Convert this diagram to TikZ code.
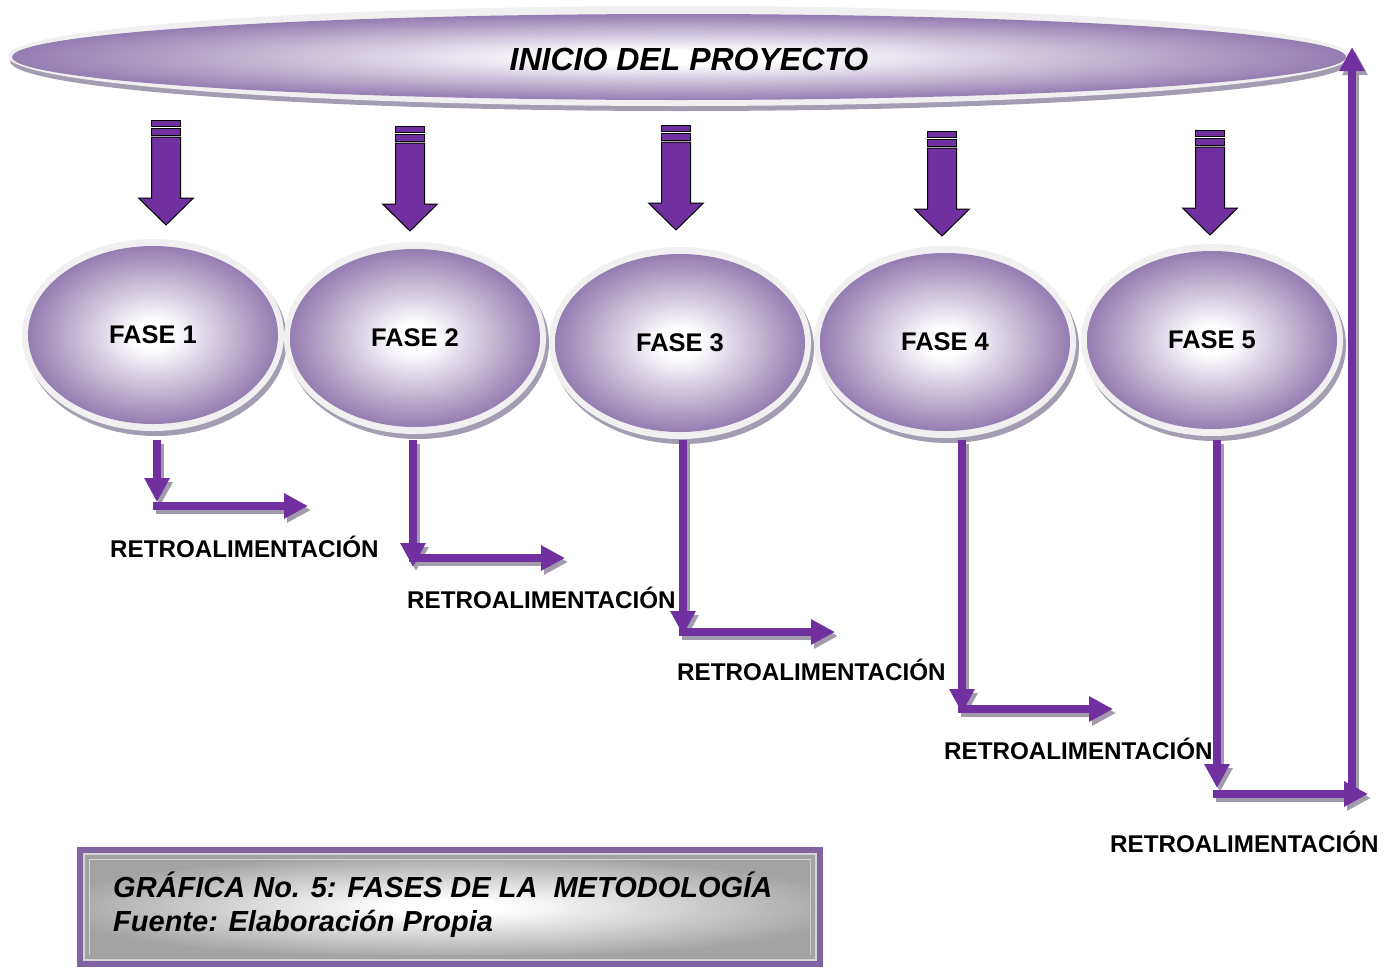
\documentclass[tikz,border=0pt]{standalone}
\usepackage{fontspec}
\setmainfont{Liberation Sans}
\usetikzlibrary{arrows.meta,shapes.geometric}
\definecolor{purpA}{HTML}{8064A2}
\definecolor{arrP}{HTML}{7030A0}
\definecolor{rimC}{HTML}{F0F0F0}
\definecolor{shadC}{HTML}{A49DB2}
\definecolor{ashadC}{HTML}{A29BAB}
\definecolor{greyC}{HTML}{A3A3A3}
\definecolor{lineC}{HTML}{D4D4D4}
\pgfdeclareradialshading{phaseshade}{\pgfpointorigin}{color(0bp)=(white); color(4bp)=(white); color(29bp)=(purpA); color(50bp)=(purpA)}
\pgfdeclareradialshading{capshade}{\pgfpointorigin}{color(0bp)=(white); color(4bp)=(white); color(28bp)=(greyC); color(50bp)=(greyC)}
\tikzset{
  phase/.style={ellipse, minimum width=250pt, minimum height=178pt, inner sep=0pt,
    shading=phaseshade, font=\fontsize{25.5}{30}\selectfont\bfseries},
  bigell/.style={ellipse, minimum width=1334pt, minimum height=86pt, inner sep=0pt, shading=phaseshade},
  rim/.style={fill=rimC},
  shad/.style={fill=shadC},
  fb/.style={draw=arrP, line width=8pt, -{Triangle[length=24pt,width=24pt]}},
  fbs/.style={draw=ashadC, line width=8pt, -{Triangle[length=24pt,width=24pt]},
    transform canvas={shift={(3pt,-4pt)}}},
  retro/.style={anchor=base west, inner sep=0pt, font=\fontsize{24.2}{28}\selectfont\bfseries},
  capt/.style={anchor=base west, inner sep=0pt, font=\fontsize{29}{34}\selectfont\bfseries\itshape},
  blk/.style={fill=arrP, draw=black, line width=1pt, line join=miter},
}
\newcommand\blockarrow[2]{%
  \begin{scope}[shift={(#1,#2)}]
    \draw[blk] (-14.5,0) rectangle (14.5,6);
    \draw[blk] (-14.5,8) rectangle (14.5,15);
    \draw[blk] (-14.5,17) -- (14.5,17) -- (14.5,78) -- (27.5,78) -- (0,105) -- (-27.5,78) -- (-14.5,78) -- cycle;
  \end{scope}}
\newcommand\phasenode[4]{%
  \fill[shad] (#2+3,#3+5) ellipse [x radius=131pt, y radius=96pt];
  \fill[rim] (#2,#3) ellipse [x radius=131pt, y radius=96pt];
  \node[phase] (#1) at (#2,#3) {#4};}
% name, x, start y, tip y, horizontal y, end x
\newcommand\feedback[6]{%
  \coordinate (v#1) at (#2,#3);
  \coordinate (t#1) at (#2,#4);
  \coordinate (ha#1) at (#2-4,#5);
  \coordinate (hb#1) at (#6,#5);
  \draw[fbs] (ha#1) -- (hb#1);
  \draw[fbs] (v#1) -- (t#1);
  \draw[fb] (ha#1) -- (hb#1);
  \draw[fb] (v#1) -- (t#1);}
\begin{document}
\begin{tikzpicture}[x=1pt,y=-1pt]
\useasboundingbox (0,0) rectangle (1390,967);
% top ellipse
\fill[shad] (681,61) ellipse [x radius=671pt, y radius=50pt];
\fill[rim] (679,56) ellipse [x radius=671pt, y radius=50pt];
\node[bigell] (start) at (679,57) {};
\node[inner sep=0pt, font=\fontsize{32}{36}\selectfont\bfseries\itshape] (title) at (689,59) {INICIO DEL PROYECTO};
% down block arrows
\blockarrow{166}{120}
\blockarrow{410}{126}
\blockarrow{676}{125}
\blockarrow{942}{131}
\blockarrow{1210}{130}
% phases
\phasenode{f1}{153}{335}{FASE 1}
\phasenode{f2}{415}{338}{FASE 2}
\phasenode{f3}{680}{343}{FASE 3}
\phasenode{f4}{945}{342}{FASE 4}
\phasenode{f5}{1212}{340}{FASE 5}
% feedback arrows
\feedback{1}{157}{440}{502}{506}{308}
\feedback{2}{413}{440}{567}{558}{565}
\feedback{3}{683}{440}{635}{632}{835}
\feedback{4}{962}{440}{713}{709}{1113}
\coordinate (v5) at (1217,440);
\coordinate (t5) at (1217,788);
\coordinate (ha5) at (1213,794);
\coordinate (hb5) at (1368,794);
\coordinate (u0) at (1352,798);
\coordinate (u1) at (1352,47);
\draw[fbs] (u0) -- (u1);
\draw[fbs] (ha5) -- (hb5);
\draw[fbs] (v5) -- (t5);
\draw[fb] (u0) -- (u1);
\draw[fb] (ha5) -- (hb5);
\draw[fb] (v5) -- (t5);
% labels
\node[retro] (r1) at (110,557) {RETROALIMENTACIÓN};
\node[retro] (r2) at (407,608) {RETROALIMENTACIÓN};
\node[retro] (r3) at (677,680) {RETROALIMENTACIÓN};
\node[retro] (r4) at (944,759) {RETROALIMENTACIÓN};
\node[retro] (r5) at (1110,852) {RETROALIMENTACIÓN};
% caption box
\fill[purpA] (77,847) rectangle (823,967);
\fill[lineC] (83,853) rectangle (817,961);
\fill[greyC] (85,855) rectangle (815,959);
\fill[lineC] (89,859) rectangle (811,955);
\shade[shading=capshade] (90,860) rectangle (810,954);
\node[capt] (cap1) at (113,897) {GRÁFICA No. 5: FASES DE LA\ \ METODOLOGÍA};
\node[capt] (cap2) at (113,931) {Fuente: Elaboración Propia};
\end{tikzpicture}
\end{document}
